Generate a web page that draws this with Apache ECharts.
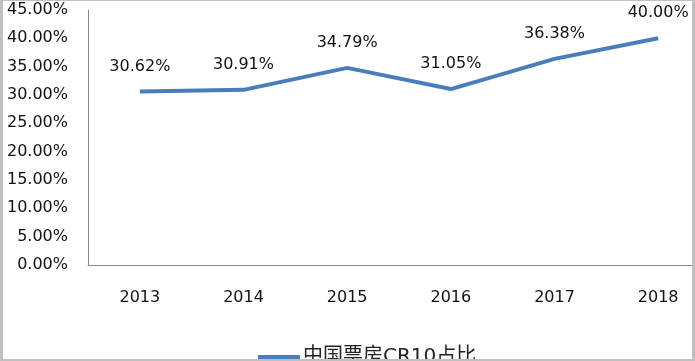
<!DOCTYPE html>
<html>
<head>
<meta charset="utf-8">
<script src="https://cdn.jsdelivr.net/npm/echarts@6/dist/echarts.min.js"></script>
<style>html,body{margin:0;padding:0;background:#fff;overflow:hidden;}#c{width:712px;height:361px;}</style>
</head>
<body>
<div id="c"></div>
<script>
var categories = ['2013', '2014', '2015', '2016', '2017', '2018'];
var seriesName = '中国票房CR10占比';
var values = [30.62, 30.91, 34.79, 31.05, 36.38, 40.00];
var yMin = 0, yMax = 45, yInterval = 5;

var chart = echarts.init(document.getElementById('c'), null, {renderer: 'canvas'});
var font = 'DejaVu Sans, Noto Sans CJK SC, sans-serif';
chart.setOption({
  animation: false,
  backgroundColor: '#ffffff',
  grid: {left: 88, top: 10, right: 2, height: 255, containLabel: false},
  legend: {
    data: [seriesName],
    left: 253, top: 342,
    icon: 'rect', itemWidth: 42, itemHeight: 4, itemGap: 10,
    textStyle: {fontFamily: font, fontSize: 20, color: '#222', lineHeight: 20, padding: [0,0,0,-2]}
  },
  xAxis: {
    type: 'category', data: categories, boundaryGap: true,
    axisLine: {lineStyle: {color: '#868686', width: 1}},
    axisTick: {show: false},
    axisLabel: {fontFamily: font, fontSize: 16, color: '#111', margin: 25}
  },
  yAxis: {
    type: 'value', min: yMin, max: yMax, interval: yInterval,
    axisLine: {show: true, lineStyle: {color: '#868686', width: 1}},
    axisTick: {show: false},
    splitLine: {show: false},
    axisLabel: {fontFamily: font, fontSize: 16, color: '#111', margin: 20,
      formatter: function (v) { return v.toFixed(2) + '%'; }}
  },
  series: [{
    name: seriesName, type: 'line', data: values,
    symbol: 'circle', symbolSize: 0, showSymbol: true,
    lineStyle: {color: '#4a7ebb', width: 4},
    itemStyle: {color: '#4a7ebb'},
    label: {show: true, position: 'top', distance: 17, fontFamily: font, fontSize: 16, color: '#111',
      formatter: function (p) { return p.value.toFixed(2) + '%'; }}
  }],
  graphic: [
    {type: 'rect', z: 100, shape: {x: 0, y: 0, width: 3, height: 361}, style: {fill: '#c0c0c0'}},
    {type: 'rect', z: 100, shape: {x: 692, y: 0, width: 20, height: 361}, style: {fill: '#c0c0c0'}},
    {type: 'rect', z: 100, shape: {x: 0, y: 0, width: 712, height: 1}, style: {fill: '#c0c0c0'}},
    {type: 'rect', z: 100, shape: {x: 0, y: 359, width: 712, height: 2}, style: {fill: '#c0c0c0'}}
  ]
});
</script>
</body>
</html>
